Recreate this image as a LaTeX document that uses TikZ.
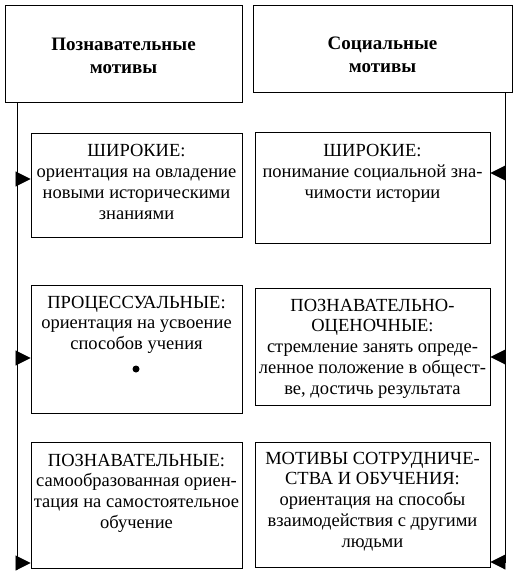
\documentclass[tikz,border=0pt]{standalone}
\usepackage{fontspec}
\setmainfont{Liberation Serif}
\usetikzlibrary{arrows.meta}
\begin{document}
\begin{tikzpicture}[x=1bp,y=-1bp,
  box/.style={draw, line width=0.9bp, inner sep=0pt},
  txt/.style={anchor=north, align=center, inner sep=0pt, font=\fontsize{18.5bp}{20.8bp}\selectfont},
  head/.style={align=center, inner sep=0pt, font=\fontsize{19bp}{23bp}\selectfont\bfseries},
  arr/.style={-{Triangle[length=15bp,width=15bp]}, line width=0.9bp},
  vline/.style={line width=0.9bp}]
\useasboundingbox (0,0) rectangle (520,580);
% headers
\node[box, minimum width=237bp, minimum height=97bp] (LH) at (123.5,53.5) {};
\node[box, minimum width=259bp, minimum height=87bp] (RH) at (382.5,48.5) {};
\node[head] (LHt) at (123.5,56) {Познавательные\\мотивы};
\node[head] (RHt) at (382.5,55) {Социальные\\мотивы};
% left boxes
\node[box, minimum width=211bp, minimum height=104bp] (L1) at (136.5,185) {};
\node[box, minimum width=211bp, minimum height=128bp] (L2) at (136.5,349) {};
\node[box, minimum width=211bp, minimum height=126bp] (L3) at (136.5,505) {};
% right boxes
\node[box, minimum width=235bp, minimum height=111bp] (R1) at (372.5,187.5) {};
\node[box, minimum width=235bp, minimum height=117bp] (R2) at (372.5,346.5) {};
\node[box, minimum width=235bp, minimum height=125bp] (R3) at (372.5,504.5) {};
% texts
\node[txt] (L1t) at ([yshift=-12bp]L1.north) {ШИРОКИЕ:\\ориентация на овладение\\новыми историческими\\знаниями};
\node[txt] (L2t) at ([yshift=-11bp]L2.north) {ПРОЦЕССУАЛЬНЫЕ:\\ориентация на усвоение\\способов учения};
\node[txt] (L3t) at ([yshift=-12bp]L3.north) {ПОЗНАВАТЕЛЬНЫЕ:\\самообразованная ориен-\\тация на самостоятельное\\обучение};
\node[txt] (R1t) at ([yshift=-13bp]R1.north) {ШИРОКИЕ:\\понимание социальной зна-\\чимости истории};
\node[txt] (R2t) at ([yshift=-11bp]R2.north) {ПОЗНАВАТЕЛЬНО-\\ОЦЕНОЧНЫЕ:\\стремление занять опреде-\\ленное положение в общест-\\ве, достичь результата};
\node[txt] (R3t) at ([yshift=-10bp]R3.north) {МОТИВЫ СОТРУДНИЧЕ-\\СТВА И ОБУЧЕНИЯ:\\ориентация на способы\\взаимодействия с другими\\людьми};
\fill (136,369) circle (3.5bp);
% left spine
\coordinate (la1) at (17,179);
\coordinate (la2) at (17,358);
\coordinate (la3) at (17,563);
\draw[vline] (LH.south -| la1) -- (la3);
\draw[arr] (la1) -- (la1 -| L1.west);
\draw[arr] (la2) -- (la2 -| L2.west);
\draw[arr] (la3) -- (la3 -| L3.west);
% right spine
\coordinate (ra1) at (505,173);
\coordinate (ra2) at (505,357);
\coordinate (ra3) at (505,562);
\draw[vline] (RH.south -| ra1) -- (ra3);
\draw[arr] (ra1) -- (ra1 -| R1.east);
\draw[arr] (ra2) -- (ra2 -| R2.east);
\draw[arr] (ra3) -- (ra3 -| R3.east);
\end{tikzpicture}
\end{document}
